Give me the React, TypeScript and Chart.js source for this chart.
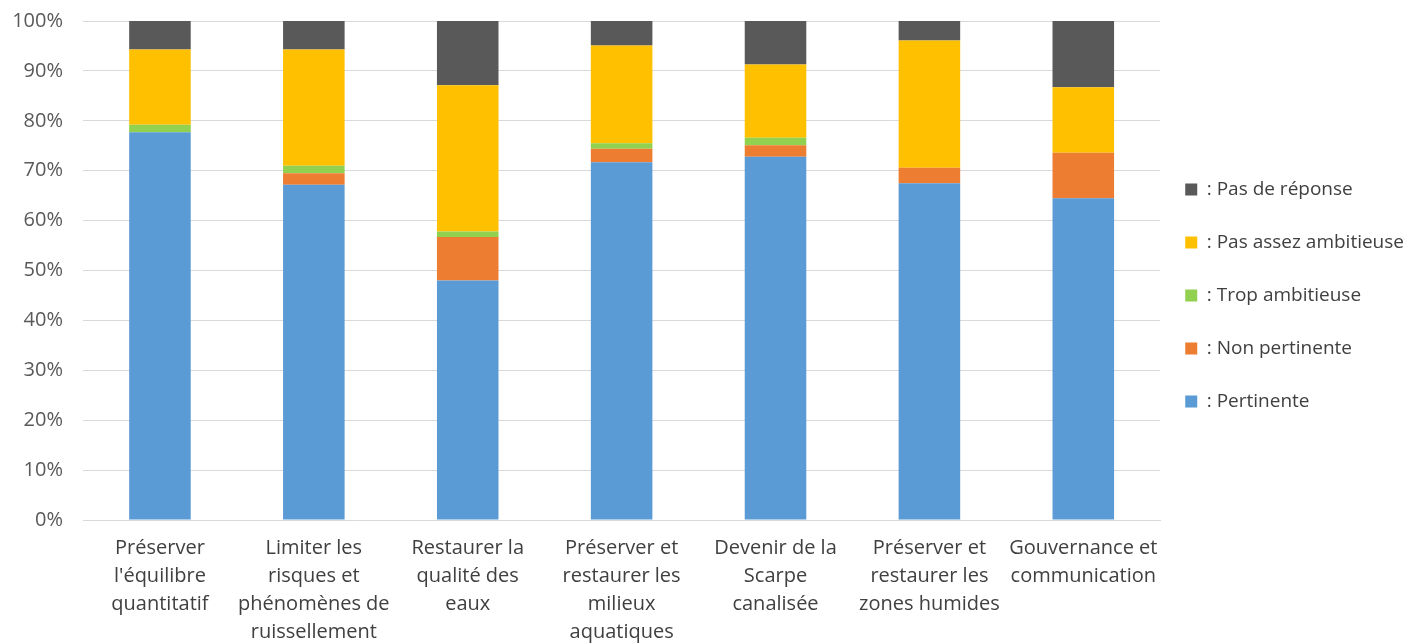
import React, { useEffect, useRef } from "react";
import { Chart, registerables } from "chart.js";

Chart.register(...registerables);

const categories: string[][] = [
  ["Préserver", "l'équilibre", "quantitatif"],
  ["Limiter les", "risques et", "phénomènes de", "ruissellement"],
  ["Restaurer la", "qualité des", "eaux"],
  ["Préserver et", "restaurer les", "milieux", "aquatiques"],
  ["Devenir de la", "Scarpe", "canalisée"],
  ["Préserver et", "restaurer les", "zones humides"],
  ["Gouvernance et", "communication"],
];

const pertinente = [77.7, 67.2, 48.0, 71.7, 72.8, 67.5, 64.5];
const nonPertinente = [0, 2.3, 8.7, 2.7, 2.3, 3.1, 9.1];
const tropAmbitieuse = [1.5, 1.5, 1.1, 1.1, 1.5, 0, 0];
const pasAssezAmbitieuse = [15.1, 23.3, 29.3, 19.6, 14.7, 25.5, 13.1];
const pasDeReponse = [5.7, 5.7, 12.9, 4.9, 8.7, 3.9, 13.3];

const seriesLabels = [
  ": Pertinente",
  ": Non pertinente",
  ": Trop ambitieuse",
  ": Pas assez ambitieuse",
  ": Pas de réponse",
];
const seriesColors = ["#5B9BD5", "#ED7D31", "#92D050", "#FFC000", "#595959"];

const FONT = "'Open Sans', 'DejaVu Sans', sans-serif";

export default function App() {
  const ref = useRef<HTMLCanvasElement | null>(null);

  useEffect(() => {
    document.body.style.margin = "0";
    document.body.style.overflow = "hidden";
    if (!ref.current) return;
    const values = [pertinente, nonPertinente, tropAmbitieuse, pasAssezAmbitieuse, pasDeReponse];
    const legendShift = {
      id: "legendShift",
      afterLayout(chart: any) {
        const l = chart.legend;
        if (l) {
          const dx = -9;
          const dy = -37;
          l.left += dx;
          l.right += dx;
          l.top += dy;
          l.bottom += dy;
        }
      },
    };
    const chart = new Chart(ref.current, {
      type: "bar",
      data: {
        labels: categories,
        datasets: values.map((v, i) => ({
          label: seriesLabels[i],
          data: v,
          backgroundColor: seriesColors[i],
          borderWidth: 0,
          barPercentage: 0.4,
          categoryPercentage: 1,
        })),
      },
      options: {
        animation: false,
        responsive: true,
        maintainAspectRatio: false,
        layout: { padding: { top: 21, right: -4, bottom: 0, left: 0 } },
        plugins: {
          tooltip: { enabled: false },
          legend: {
            position: "right",
            reverse: true,
            labels: {
              boxWidth: 12,
              boxHeight: 12,
              padding: 34,
              color: "#404040",
              font: { family: FONT, size: 19 },
            },
          },
        },
        scales: {
          x: {
            stacked: true,
            grid: { display: false, drawTicks: false },
            border: { display: true, color: "#d9d9d9", width: 1 },
            ticks: {
              color: "#404040",
              padding: 14,
              maxRotation: 0,
              autoSkip: false,
              font: { family: FONT, size: 20, lineHeight: 1.4 },
            },
            afterFit: (s: any) => {
              s.height = 124;
            },
          },
          y: {
            stacked: true,
            min: 0,
            max: 100,
            grid: { color: "#d9d9d9", lineWidth: 1, drawTicks: false },
            border: { display: false },
            ticks: {
              stepSize: 10,
              padding: 20,
              color: "#595959",
              font: { family: FONT, size: 20 },
              callback: (v: any) => v + "%",
            },
            afterFit: (s: any) => {
              s.width = 83;
              s.paddingTop = 0;
            },
          },
        },
      },
      plugins: [legendShift],
    });
    return () => chart.destroy();
  }, []);

  return (
    <div style={{ width: 1419, height: 644, position: "relative" }}>
      <canvas ref={ref} />
    </div>
  );
}
